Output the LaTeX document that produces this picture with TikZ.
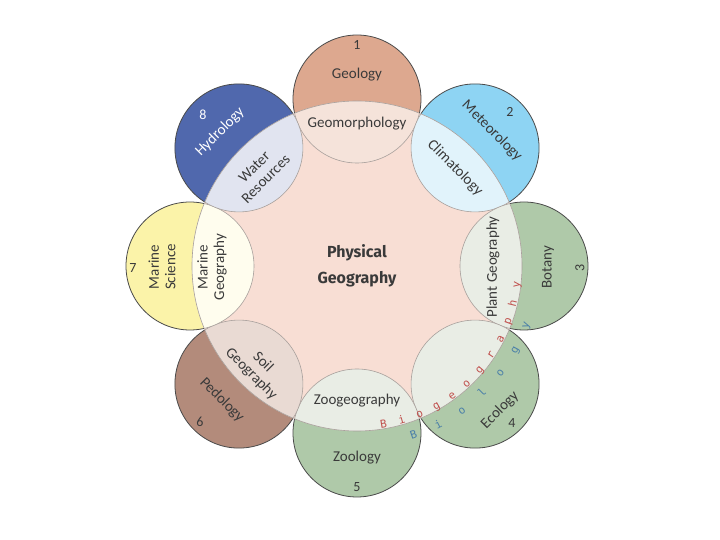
\documentclass[tikz,border=0pt]{standalone}
\usepackage{fontspec}
\setmainfont{Carlito}
\newfontfamily\headfont{Fira Sans}
\newfontfamily\arcfont{DejaVu Sans Mono}
\usepackage{tikz}

\definecolor{corefill}{HTML}{F8DED4}
\definecolor{geolfill}{HTML}{DDA88F}
\definecolor{geolin}{HTML}{F5E3DA}
\definecolor{meteofill}{HTML}{8ED4F3}
\definecolor{meteoin}{HTML}{E1F3FB}
\definecolor{biofill}{HTML}{AFC9A9}
\definecolor{bioin}{HTML}{E9EDE5}
\definecolor{pedofill}{HTML}{B38B7B}
\definecolor{pedoin}{HTML}{E9DAD3}
\definecolor{marinefill}{HTML}{FBF3A9}
\definecolor{marinein}{HTML}{FFFDEE}
\definecolor{hydrofill}{HTML}{5068AD}
\definecolor{hydroin}{HTML}{E1E4F0}
\definecolor{ringgray}{HTML}{4A4A4A}
\definecolor{lensgray}{HTML}{A8A09C}
\definecolor{inkgray}{HTML}{3A3A3A}
\definecolor{biored}{HTML}{C0504D}
\definecolor{bioblue}{HTML}{4A7FA8}

\begin{document}
\begin{tikzpicture}[x=1pt, y=1pt,
  ring/.style={draw=ringgray, line width=0.8pt},
  lens/.style={draw=lensgray, line width=0.6pt},
  lbl/.style={font=\fontsize{15}{16.5}\selectfont, text=inkgray, align=center, inner sep=1pt},
  num/.style={font=\fontsize{14}{14}\selectfont, text=inkgray, inner sep=1pt},
  redch/.style={font=\arcfont\fontsize{11}{11}\selectfont, text=biored, anchor=base, inner sep=0pt},
  bluech/.style={font=\arcfont\fontsize{11}{11}\selectfont, text=bioblue, anchor=base, inner sep=0pt}]
\useasboundingbox (-357,-274) rectangle (363,266);

\fill[geolfill, ring] (90:167) circle (64);
\fill[meteofill, ring] (45:167) circle (64);
\fill[biofill, ring] (0:167) circle (64);
\fill[biofill, ring] (-45:167) circle (64);
\fill[biofill, ring] (-90:167) circle (64);
\fill[pedofill, ring] (-135:167) circle (64);
\fill[marinefill, ring] (180:167) circle (64);
\fill[hydrofill, ring] (135:167) circle (64);

\fill[corefill] (0,0) circle (165);

\begin{scope}
\clip (0,0) circle (165);
\fill[geolin, lens] (90:167) circle (64);
\fill[meteoin, lens] (45:167) circle (64);
\fill[bioin, lens] (0:167) circle (64);
\fill[bioin, lens] (-45:167) circle (64);
\fill[bioin, lens] (-90:167) circle (64);
\fill[pedoin, lens] (-135:167) circle (64);
\fill[marinein, lens] (180:167) circle (64);
\fill[hydroin, lens] (135:167) circle (64);
\end{scope}

\begin{scope}
\clip (90:167) circle (64) (45:167) circle (64) (0:167) circle (64) (-45:167) circle (64)
  (-90:167) circle (64) (-135:167) circle (64) (180:167) circle (64) (135:167) circle (64);
\draw[lens] (0,0) circle (165);
\end{scope}

\node[font=\headfont\bfseries\fontsize{16}{26}\selectfont, text=inkgray, align=center] (core) at (0,0) {Physical\\Geography};

\node[num] (n1) at (0,221) {1};
\node[lbl] (geology) at (0,191) {Geology};
\node[lbl] (geomorph) at (0,142) {Geomorphology};

\node[num] (n2) at (153,154) {2};
\node[lbl, rotate=-45] (meteo) at (135,135) {Meteorology};
\node[lbl, rotate=-45] (clima) at (98,98) {Climatology};

\node[num, rotate=90] (n3) at (223,-2) {3};
\node[lbl, rotate=90] (botany) at (191,-1) {Botany};
\node[lbl, rotate=90] (plantgeo) at (136,-1) {Plant Geography};

\node[num] (n4) at (155,-157) {4};
\node[lbl, rotate=45] (ecology) at (143,-144) {Ecology};

\node[num] (n5) at (0,-221) {5};
\node[lbl] (zoology) at (0,-192) {Zoology};
\node[lbl] (zoogeo) at (0,-135) {Zoogeography};

\node[num] (n6) at (-157,-156) {6};
\node[lbl, rotate=-45] (pedology) at (-135,-134) {Pedology};
\node[lbl, rotate=-45] (soilgeo) at (-100,-102) {Soil\\Geography};

\node[num] (n7) at (-224,-2) {7};
\node[lbl, rotate=90] (marsci) at (-195,-1) {Marine\\Science};
\node[lbl, rotate=90] (margeo) at (-145,-1) {Marine\\Geography};

\node[num, text=white] (n8) at (-154,151) {8};
\node[lbl, text=white, rotate=45] (hydrology) at (-137,134) {Hydrology};
\node[lbl, rotate=45] (water) at (-97,93) {Water\\Resources};

\node[redch, rotate=9.5] (bg1) at (-80.5:164) {B};
\node[redch, rotate=16.2] (bg2) at (-73.8:164) {i};
\node[redch, rotate=22.9] (bg3) at (-67.1:164) {o};
\node[redch, rotate=29.6] (bg4) at (-60.4:164) {g};
\node[redch, rotate=36.3] (bg5) at (-53.7:164) {e};
\node[redch, rotate=43.0] (bg6) at (-47.0:164) {o};
\node[redch, rotate=49.7] (bg7) at (-40.3:164) {g};
\node[redch, rotate=56.4] (bg8) at (-33.6:164) {r};
\node[redch, rotate=63.1] (bg9) at (-26.9:164) {a};
\node[redch, rotate=69.8] (bg10) at (-20.2:164) {p};
\node[redch, rotate=76.5] (bg11) at (-13.5:164) {h};
\node[redch, rotate=83.2] (bg12) at (-6.8:164) {y};

\node[bluech, rotate=18.5] (bl1) at (-71.5:182) {B};
\node[bluech, rotate=27.2] (bl2) at (-62.8:182) {i};
\node[bluech, rotate=35.9] (bl3) at (-54.1:182) {o};
\node[bluech, rotate=44.6] (bl4) at (-45.4:182) {l};
\node[bluech, rotate=53.3] (bl5) at (-36.7:182) {o};
\node[bluech, rotate=62.0] (bl6) at (-28.0:182) {g};
\node[bluech, rotate=70.7] (bl7) at (-19.3:182) {y};
\end{tikzpicture}
\end{document}
